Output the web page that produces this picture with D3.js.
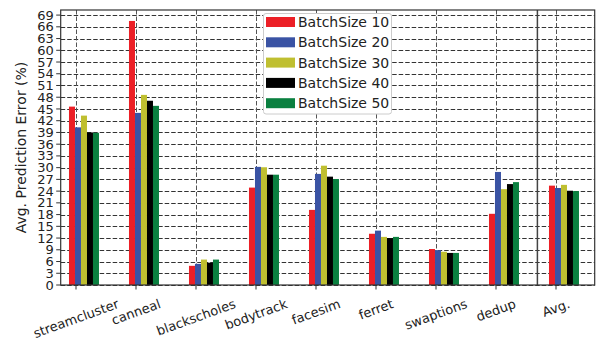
<!DOCTYPE html>
<html>
<head>
<meta charset="utf-8">
<script src="https://cdn.jsdelivr.net/npm/d3@7"></script>
<style>
  html, body { margin: 0; padding: 0; background: #fff; }
  svg { display: block; font-family: "DejaVu Sans", sans-serif; }
</style>
</head>
<body>
<svg id="chart" width="601" height="340"></svg>
<script>
// Benchmarks along the x axis; the last group is the average over all of them.
const categories = ["streamcluster", "canneal", "blackscholes", "bodytrack", "facesim",
                    "ferret", "swaptions", "dedup", "Avg."];
const seriesNames = ["BatchSize 10", "BatchSize 20", "BatchSize 30", "BatchSize 40", "BatchSize 50"];
const seriesColors = ["#ec1f26", "#3a53a4", "#bfbf30", "#000000", "#0b8040"];

// Prediction error (%) per batch size, one value per category.
const batch10 = [45.6, 67.5, 4.9, 24.9, 19.2, 13.1, 9.2, 18.2, 25.4];
const batch20 = [40.3, 44.0, 5.4, 30.2, 28.4, 13.9, 8.9, 28.9, 24.8];
const batch30 = [43.3, 48.6, 6.5, 30.1, 30.5, 12.3, 8.5, 24.5, 25.6];
const batch40 = [39.0, 47.1, 5.7, 28.2, 27.7, 12.0, 8.2, 25.8, 24.1];
const batch50 = [38.9, 45.8, 6.5, 28.2, 27.1, 12.3, 8.2, 26.3, 24.0];
const seriesValues = [batch10, batch20, batch30, batch40, batch50];

const yTicks = d3.range(0, 70, 3);   // 0, 3, ..., 69

const svg = d3.select("#chart");
const plot = { left: 60.7, right: 594.7, top: 10, bottom: 285 };

const x = d3.scaleLinear().domain([-0.255, 8.645]).range([plot.left, plot.right]);
const y = d3.scaleLinear().domain([0, 70.3]).range([plot.bottom, plot.top]);
const barW = 0.1;          // bar width in category units
const groupOffset = -0.117; // left edge of the first bar relative to the tick

// grid
const grid = svg.append("g");
grid.selectAll("line.h").data(yTicks).join("line")
  .attr("x1", plot.left).attr("x2", plot.right)
  .attr("y1", d => Math.round(y(d)) + 0.5).attr("y2", d => Math.round(y(d)) + 0.5)
  .attr("stroke", "#333").attr("stroke-width", 1).attr("stroke-dasharray", "4.5,2");
grid.selectAll("line.v").data(categories).join("line")
  .attr("x1", (d, i) => Math.round(x(i)) + 0.5).attr("x2", (d, i) => Math.round(x(i)) + 0.5)
  .attr("y1", plot.top).attr("y2", plot.bottom)
  .attr("stroke", "#555").attr("stroke-width", 1).attr("stroke-dasharray", "4.5,2");

// bars
seriesValues.forEach((vals, s) => {
  svg.append("g").selectAll("rect").data(vals).join("rect")
    .attr("x", (d, i) => x(i + groupOffset + s * barW))
    .attr("width", x(barW) - x(0))
    .attr("y", d => y(d))
    .attr("height", d => y(0) - y(d))
    .attr("fill", seriesColors[s]);
});

// separator between the benchmarks and the average
svg.append("line")
  .attr("x1", x(7.69)).attr("x2", x(7.69))
  .attr("y1", plot.top).attr("y2", plot.bottom)
  .attr("stroke", "#444").attr("stroke-width", 1.5);

// frame
svg.append("rect")
  .attr("x", plot.left).attr("y", plot.top)
  .attr("width", plot.right - plot.left).attr("height", plot.bottom - plot.top)
  .attr("fill", "none").attr("stroke", "#333").attr("stroke-width", 1.2);

// y axis ticks and labels
const yAxis = svg.append("g");
yAxis.selectAll("line").data(yTicks).join("line")
  .attr("x1", plot.left - 4.5).attr("x2", plot.left)
  .attr("y1", d => y(d)).attr("y2", d => y(d))
  .attr("stroke", "#333").attr("stroke-width", 1);
yAxis.selectAll("text").data(yTicks).join("text")
  .attr("x", plot.left - 7).attr("y", d => y(d)).attr("dy", "0.35em")
  .attr("text-anchor", "end").attr("font-size", 13).attr("fill", "#222")
  .text(d => d);

svg.append("text")
  .attr("transform", `translate(21,${(plot.top + plot.bottom) / 2}) rotate(-90)`)
  .attr("text-anchor", "middle").attr("dy", "0.35em")
  .attr("font-size", 14).attr("fill", "#222")
  .text("Avg. Prediction Error (%)");

// x axis ticks and rotated labels
const xAxis = svg.append("g");
xAxis.selectAll("line").data(categories).join("line")
  .attr("x1", (d, i) => x(i)).attr("x2", (d, i) => x(i))
  .attr("y1", plot.bottom).attr("y2", plot.bottom + 4.5)
  .attr("stroke", "#333").attr("stroke-width", 1);
const angle = 20 * Math.PI / 180;
const fs = 13;
xAxis.selectAll("text").data(categories).join("text")
  .attr("text-anchor", "middle").attr("dy", "0.35em")
  .attr("font-size", fs).attr("fill", "#222")
  .text(d => d)
  .each(function (d, i) {
    const w = this.getComputedTextLength();
    const h = fs * 1.17;
    const H = w * Math.sin(angle) + h * Math.cos(angle);
    const cy = plot.bottom + 11 + H / 2;
    d3.select(this).attr("transform", `translate(${x(i)},${cy}) rotate(-20)`);
  });

// legend
const legend = svg.append("g").attr("transform", "translate(263.5,13.5)");
legend.append("rect")
  .attr("width", 128).attr("height", 100.5).attr("rx", 2.5)
  .attr("fill", "#fff").attr("stroke", "#ccc").attr("stroke-width", 1);
seriesNames.forEach((name, s) => {
  const cy = 8.5 + s * 20.3;
  legend.append("rect")
    .attr("x", 2.5).attr("y", cy - 5).attr("width", 29).attr("height", 10)
    .attr("fill", seriesColors[s]);
  legend.append("text")
    .attr("x", 34.5).attr("y", cy).attr("dy", "0.35em")
    .attr("font-size", 14).attr("fill", "#222")
    .text(name);
});
</script>
</body>
</html>
